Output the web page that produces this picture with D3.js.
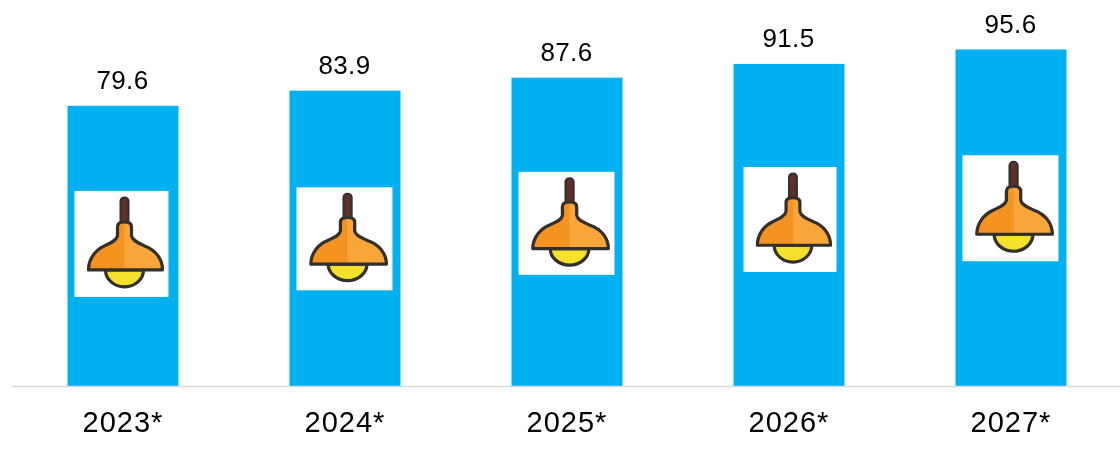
<!DOCTYPE html>
<html>
<head>
<meta charset="utf-8">
<script src="https://cdn.jsdelivr.net/npm/d3@7"></script>
<style>
  html, body { margin: 0; padding: 0; background: #fff; }
  svg { display: block; filter: blur(0.5px); }
  text { font-family: "Liberation Sans", Arial, sans-serif; fill: #000; }
</style>
</head>
<body>
<svg id="chart" width="1120" height="452"></svg>
<script>
// values
const years = ['2023*', '2024*', '2025*', '2026*', '2027*'];
const values = [79.6, 83.9, 87.6, 91.5, 95.6];

// lamp boxes are placed by hand in the original, not quite centred on the bars
const boxWidths = [94, 96, 96, 93, 96];
const boxHeights = [106, 103, 103, 105, 106];
const boxNudgeX = [-1.5, -0.5, -0.5, 1, -0.5];
const boxNudgeY = [-2, 0.5, -8.5, -5.5, -9.5];

const width = 1120;
const baseline = 386;

const svg = d3.select('#chart');

const x = d3.scaleBand()
  .domain(years)
  .range([12, 1122])
  .paddingInner(0.5)
  .paddingOuter(0.25);

const y = d3.scaleLinear()
  .domain([0, 100])
  .range([baseline, baseline - 352]);

// Bars
svg.selectAll('rect.bar')
  .data(values)
  .join('rect')
  .attr('class', 'bar')
  .attr('x', (d, i) => x(years[i]))
  .attr('y', d => y(d))
  .attr('width', x.bandwidth())
  .attr('height', d => baseline - y(d))
  .attr('fill', '#00b0f0');

// Axis line
svg.append('line')
  .attr('x1', 12)
  .attr('x2', width)
  .attr('y1', baseline + 0.5)
  .attr('y2', baseline + 0.5)
  .attr('stroke', '#d9d9d9')
  .attr('stroke-width', 1.5);

// Value labels
svg.selectAll('text.value')
  .data(values)
  .join('text')
  .attr('class', 'value')
  .attr('x', (d, i) => x(years[i]) + x.bandwidth() / 2 - 0.5)
  .attr('y', d => y(d) - 16.5)
  .attr('text-anchor', 'middle')
  .attr('font-size', 26)
  .attr('letter-spacing', 0.3)
  .text(d => d.toFixed(1));

// Category labels
svg.selectAll('text.year')
  .data(years)
  .join('text')
  .attr('class', 'year')
  .attr('x', d => x(d) + x.bandwidth() / 2)
  .attr('y', 432)
  .attr('text-anchor', 'middle')
  .attr('font-size', 29)
  .attr('letter-spacing', 1)
  .text(d => d);

// Lamp icon, drawn in a 94x106 box
function drawLamp(g) {
  const ink = '#33302c';
  g.append('rect')
    .attr('width', 94)
    .attr('height', 106)
    .attr('fill', '#fff');
  // cord
  g.append('rect')
    .attr('x', 46).attr('y', 6.5)
    .attr('width', 8).attr('height', 28)
    .attr('rx', 4)
    .attr('fill', '#5f3029')
    .attr('stroke', ink)
    .attr('stroke-width', 2);
  // bulb
  g.append('path')
    .attr('d', 'M31,79 A19,17 0 0 0 69,79 Z')
    .attr('fill', '#f5e02c')
    .attr('stroke', ink)
    .attr('stroke-width', 3.2);
  // shade
  const shade = 'M43,36 Q43,31 50,31 Q57,31 57,36 L57,45 C58,50 64,52 70,55 C81,59 88,68 88,79 L14,79 C14,68 21,59 30,55 C36,52 42,50 43,45 Z';
  g.append('path')
    .attr('d', shade)
    .attr('fill', '#f4931f');
  // lighter right half
  g.append('path')
    .attr('d', 'M50,31 Q57,31 57,36 L57,45 C58,50 64,52 70,55 C81,59 88,68 88,79 L50,79 Z')
    .attr('fill', '#f8a63a');
  g.append('path')
    .attr('d', shade)
    .attr('fill', 'none')
    .attr('stroke', ink)
    .attr('stroke-width', 3.2)
    .attr('stroke-linejoin', 'round');
}

const boxCentreY = d => (baseline + y(d)) / 2;

svg.selectAll('g.lamp')
  .data(values)
  .join('g')
  .attr('class', 'lamp')
  .attr('transform', (d, i) => {
    const cx = x(years[i]) + x.bandwidth() / 2 + boxNudgeX[i];
    const cy = boxCentreY(d) + boxNudgeY[i];
    const w = boxWidths[i];
    const h = boxHeights[i];
    return `translate(${cx - w / 2}, ${cy - h / 2}) scale(${w / 94}, ${h / 106})`;
  })
  .each(function() { drawLamp(d3.select(this)); });
</script>
</body>
</html>
